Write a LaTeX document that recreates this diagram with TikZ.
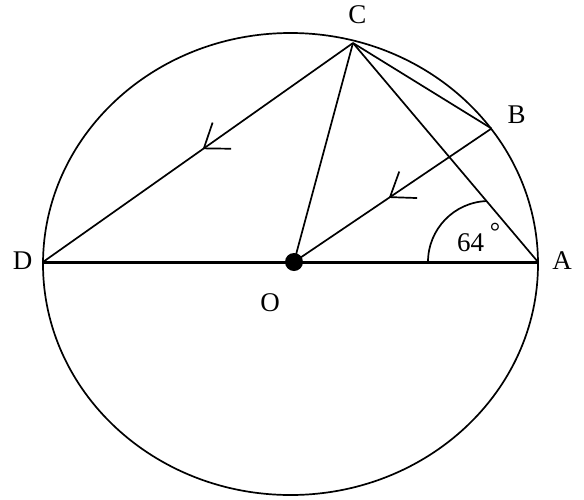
\documentclass[tikz,border=0pt]{standalone}
\usepackage{fontspec}
\setmainfont{Liberation Serif}
\usetikzlibrary{arrows.meta,decorations.markings}
\tikzset{
  chord/.style={line width=1.7pt},
  ptlabel/.style={inner sep=0pt,font=\fontsize{27}{30}\selectfont},
  midbarb/.style={postaction={decorate},decoration={markings,
    mark=at position #1 with {\arrow{Straight Barb[length=22pt,width=32pt,line width=1.7pt]}}}}
}
\begin{document}
\begin{tikzpicture}[x=1pt,y=-1pt,line join=round]
\useasboundingbox (0,0) rectangle (584,499);
% points on the circle
\coordinate (M) at (290.5,264);
\coordinate (C) at (353,43);
\coordinate (B) at (491.5,128.5);
\coordinate (A) at (538,262);
\coordinate (D) at (43,262);
\coordinate (O) at (294,262);
\coordinate (T) at (428,262);
% circle
\draw[chord] (M) ellipse [x radius=247.5pt,y radius=231pt];
% diameter
\draw[line width=3pt] (D) -- (A);
% chords
\draw[chord,midbarb=0.485] (C) -- (D);
\draw[chord] (C) -- (O);
\draw[chord] (C) -- (A);
\draw[chord] (C) -- (B);
\draw[chord,midbarb=0.52] (B) -- (O);
% angle mark
\draw[chord] (T) arc[start angle=180,end angle=92,radius=61pt];
\fill (O) circle[radius=9pt];
% labels
\node[ptlabel] (lC) at (357.5,15) {C};
\node[ptlabel] (lB) at (516.5,115) {B};
\node[ptlabel] (lD) at (22.5,260.5) {D};
\node[ptlabel] (lA) at (562,260.5) {A};
\node[ptlabel] (lO) at (270,302.5) {O};
\node[ptlabel] (lang) at (470.5,243) {64};
\node[inner sep=0pt,font=\fontsize{26}{26}\selectfont] (ldeg) at (495,232) {°};
\end{tikzpicture}
\end{document}
